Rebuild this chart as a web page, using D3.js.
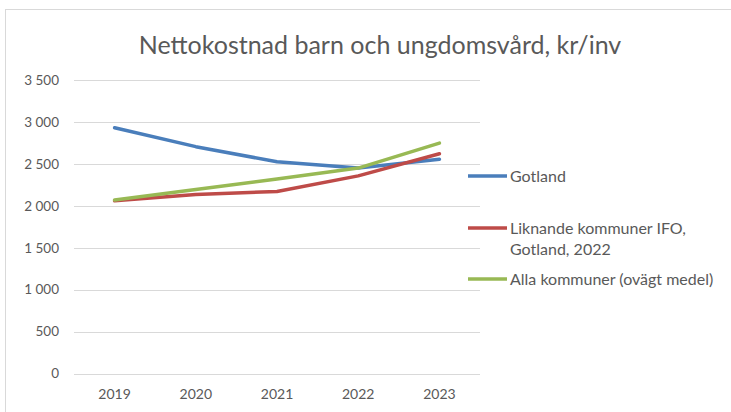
<!DOCTYPE html>
<html>
<head>
<meta charset="utf-8">
<script src="https://cdn.jsdelivr.net/npm/d3@7"></script>
<style>
  body { margin: 0; background: #fff; }
  text { font-family: Lato, "Open Sans", sans-serif; fill: #595959; }
</style>
</head>
<body>
<div id="chart"></div>
<script>
// data
var years = ["2019", "2020", "2021", "2022", "2023"];
var gotland = [2930, 2705, 2525, 2450, 2555];
var liknande = [2060, 2135, 2170, 2357, 2620];
var alla = [2070, 2195, 2320, 2450, 2748];
var seriesNames = ["Gotland", "Liknande kommuner IFO, Gotland, 2022", "Alla kommuner (ovägt medel)"];
var yTicks = [0, 500, 1000, 1500, 2000, 2500, 3000, 3500];

var colors = ["#4a7ebb", "#be4b48", "#98b954"];
var allSeries = [gotland, liknande, alla];

var width = 731, height = 412;
var margin = {top: 80, left: 74, right: 251, bottom: 38.5};

var svg = d3.select("#chart")
  .append("svg")
    .attr("width", width)
    .attr("height", height);

// chart frame
svg.append("rect")
  .attr("x", 5.5).attr("y", 9.5)
  .attr("width", 740).attr("height", 420)
  .attr("fill", "none")
  .attr("stroke", "#d9d9d9");

svg.append("text")
  .attr("x", 380)
  .attr("y", 54)
  .attr("text-anchor", "middle")
  .attr("font-size", "25px")
  .text("Nettokostnad barn och ungdomsvård, kr/inv");

var x = d3.scaleBand()
  .domain(years)
  .range([margin.left, width - margin.right]);

var y = d3.scaleLinear()
  .domain([0, 3500])
  .range([height - margin.bottom, margin.top]);

// gridlines
svg.append("g")
  .selectAll("line")
  .data(yTicks)
  .enter()
  .append("line")
    .attr("x1", margin.left)
    .attr("x2", width - margin.right)
    .attr("y1", function(d) { return Math.round(y(d)) + 0.5; })
    .attr("y2", function(d) { return Math.round(y(d)) + 0.5; })
    .attr("stroke", "#d9d9d9")
    .attr("stroke-width", 1);

var fmt = function(d) { return d3.format(",")(d).replace(/,/g, " "); };

var yAxis = svg.append("g")
  .attr("transform", "translate(" + (margin.left - 15) + ",0)")
  .call(d3.axisLeft(y).tickValues(yTicks).tickFormat(fmt).tickSize(0).tickPadding(0));
yAxis.select(".domain").remove();
yAxis.selectAll("text").attr("font-size", "13.5px").style("fill", "#595959");

var xAxis = svg.append("g")
  .attr("transform", "translate(0," + (height - margin.bottom) + ")")
  .call(d3.axisBottom(x).tickSize(0).tickPadding(16));
xAxis.select(".domain").remove();
xAxis.selectAll("text").attr("font-size", "14px").style("fill", "#595959");

var line = d3.line()
  .x(function(d, i) { return x(years[i]) + x.bandwidth() / 2; })
  .y(function(d) { return y(d); });

svg.append("g")
  .selectAll("path")
  .data(allSeries)
  .enter()
  .append("path")
    .attr("d", line)
    .attr("fill", "none")
    .attr("stroke", function(d, i) { return colors[i]; })
    .attr("stroke-width", 3.5)
    .attr("stroke-linejoin", "round")
    .attr("stroke-linecap", "round");

// legend
var legendY = [176, 228, 279];
var legendLines = [["Gotland"], ["Liknande kommuner IFO,", "Gotland, 2022"], ["Alla kommuner (ovägt medel)"]];
var legend = svg.append("g")
  .selectAll("g")
  .data(seriesNames)
  .enter()
  .append("g")
    .attr("transform", function(d, i) { return "translate(468," + legendY[i] + ")"; });

legend.append("line")
  .attr("x1", 0).attr("x2", 39)
  .attr("stroke", function(d, i) { return colors[i]; })
  .attr("stroke-width", 3.5);

legend.append("text")
  .attr("x", 42)
  .attr("font-size", "16px")
  .selectAll("tspan")
  .data(function(d, i) { return legendLines[i]; })
  .enter()
  .append("tspan")
    .attr("x", 42)
    .attr("dy", function(d, j) { return j === 0 ? "0.35em" : "21px"; })
    .text(function(d) { return d; });
</script>
</body>
</html>
